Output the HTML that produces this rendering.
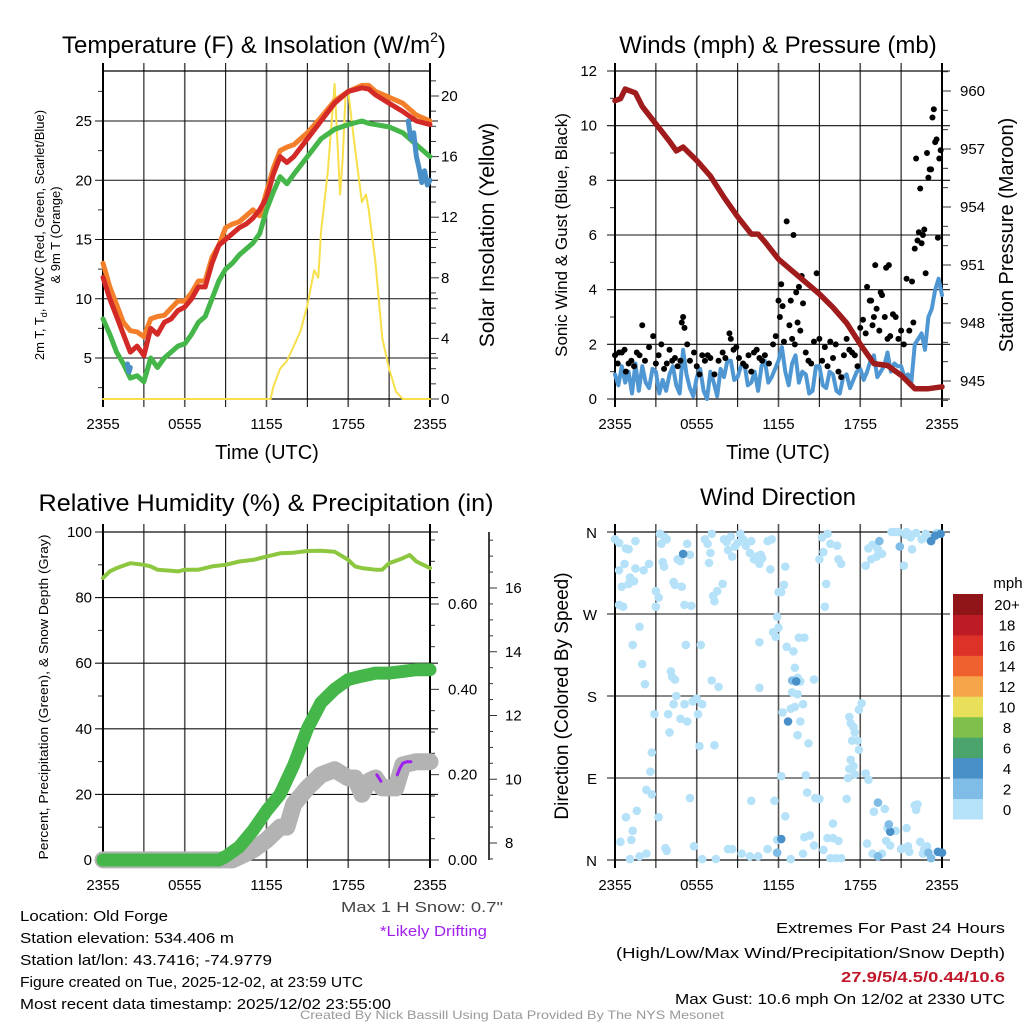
<!DOCTYPE html>
<html><head><meta charset="utf-8"><style>
html,body{margin:0;padding:0;background:#fff;}
svg{display:block;font-family:"Liberation Sans",sans-serif;}
</style></head><body>
<svg id="fig" width="1024" height="1024" viewBox="0 0 1024 1024" xmlns="http://www.w3.org/2000/svg">
<rect x="0" y="0" width="1024" height="1024" fill="#fff"/>
<g id="g-tl"></g>
<g id="g-tr"></g>
<g id="g-bl"></g>
<g id="g-br"></g>
<g id="g-txt" font-size="15">
<text x="20" y="921" textLength="148" lengthAdjust="spacingAndGlyphs">Location: Old Forge</text>
<text x="20" y="943" textLength="214" lengthAdjust="spacingAndGlyphs">Station elevation: 534.406 m</text>
<text x="20" y="965" textLength="252" lengthAdjust="spacingAndGlyphs">Station lat/lon: 43.7416; -74.9779</text>
<text x="20" y="987" textLength="343" lengthAdjust="spacingAndGlyphs">Figure created on Tue, 2025-12-02, at 23:59 UTC</text>
<text x="20" y="1009" textLength="371" lengthAdjust="spacingAndGlyphs">Most recent data timestamp: 2025/12/02 23:55:00</text>
<text x="341" y="912" fill="#444" textLength="162" lengthAdjust="spacingAndGlyphs">Max 1 H Snow: 0.7"</text>
<text x="380" y="936" fill="#a020f0" textLength="107" lengthAdjust="spacingAndGlyphs">*Likely Drifting</text>
<text x="1005" y="933" text-anchor="end" textLength="229" lengthAdjust="spacingAndGlyphs">Extremes For Past 24 Hours</text>
<text x="1005" y="958" text-anchor="end" textLength="389" lengthAdjust="spacingAndGlyphs">(High/Low/Max Wind/Precipitation/Snow Depth)</text>
<text x="1005" y="982" text-anchor="end" fill="#c0182a" font-weight="bold" textLength="164" lengthAdjust="spacingAndGlyphs">27.9/5/4.5/0.44/10.6</text>
<text x="1005" y="1004" text-anchor="end" textLength="330" lengthAdjust="spacingAndGlyphs">Max Gust: 10.6 mph On 12/02 at 2330 UTC</text>
<text x="512" y="1019" text-anchor="middle" font-size="12" fill="#999" textLength="424" lengthAdjust="spacingAndGlyphs">Created By Nick Bassill Using Data Provided By The NYS Mesonet</text>
</g>
</svg>
<script>
// ---------- DATA ----------
const xTickLabels = ["2355","0555","1155","1755","2355"];
const tempHours = [0,0.5,1,1.5,2,2.5,3,3.5,4,4.5,5,5.5,6,6.5,7,7.5,8,8.5,9,9.5,10,10.5,11,11.5,12,12.5,13,13.5,14,15,16,17,18,19,19.5,20,21,22,23,24];
const temp9m = [13,11,9.5,8,7.3,7.2,6.8,8.3,8.5,8.6,9.2,9.8,9.8,10.5,11.5,11.5,13.5,14.5,16,16.3,16.5,17,17.5,17,19,21,22.5,22.8,23,24,25.3,26.7,27.5,28,28,27.5,27,26.5,25.5,25];
const temp2m = [11.8,10,8.5,7,5.5,6,5.2,7.5,7,8,8.3,9,9.3,10,11,11,13,14.5,15,15.5,16,16.3,16.8,17.5,18.5,20.5,22,21.5,22,23.5,25,26.5,27.5,27.8,27.7,27.2,26.5,25.8,25,24.7];
const dewpt = [8.3,7,5.5,4.5,3.3,3.5,3,5,4.2,5,5.5,6,6.2,7,8,8.5,10,11.5,12.5,13,13.7,14.2,14.7,15.5,17.5,19,20.3,19.7,20.5,22,23.5,24.3,24.7,25,24.8,24.7,24.5,24,23,22];
const wcHoursA = [1.8,1.9,2.0];
const wcValsA = [4.5,3.8,4.2];
const wcHoursB = [22.4,22.6,22.8,23,23.2,23.4,23.6,23.8,24];
const wcValsB = [25,23.5,24,22,21,19.8,20.8,19.6,20];
const solarHours = [0,12.3,12.5,13,13.5,14,14.5,15,15.5,15.8,16,16.5,17,17.2,17.4,17.6,17.8,18,18.3,18.5,19,19.3,19.5,20,20.5,21,21.5,22,24];
const solarVals = [0,0,0.8,2,2.5,3.5,4.5,6.2,8.5,8,11,15,20.8,17,13.5,16,20,20.3,18,16.5,13,13.5,12.5,9,4,2,0.5,0,0];
const windHours = [0,0.25,0.5,0.75,1,1.25,1.5,1.75,2,2.25,2.5,2.75,3,3.25,3.5,3.75,4,4.25,4.5,4.75,5,5.25,5.5,5.75,6,6.25,6.5,6.75,7,7.25,7.5,7.75,8,8.25,8.5,8.75,9,9.25,9.5,9.75,10,10.25,10.5,10.75,11,11.25,11.5,11.75,12,12.25,12.5,12.75,13,13.25,13.5,13.75,14,14.25,14.5,14.75,15,15.25,15.5,15.75,16,16.25,16.5,16.75,17,17.25,17.5,17.75,18,18.25,18.5,18.75,19,19.25,19.5,19.75,20,20.25,20.5,20.75,21,21.25,21.5,21.75,22,22.25,22.5,22.75,23,23.25,23.5,23.75,24];
const windVals = [0.9,0.5,1.2,0.6,1.0,0.2,1.3,0.3,1.2,0.6,0.4,1.1,1.0,0.2,0.7,0.3,0.9,1.2,0.5,0.2,1.8,0.9,0.4,0.1,0.8,1.1,0.3,0.0,1.0,0.6,0.1,1.1,0.8,1.4,1.4,0.7,0.8,1.2,1.3,0.5,0.6,1.0,0.3,1.2,1.4,0.6,0.8,1.1,1.4,1.9,1.0,0.5,1.3,1.6,0.6,1.0,0.9,0.2,0.3,1.2,1.2,0.5,0.4,1.0,0.9,0.3,0.2,0.8,0.9,0.4,0.7,1.0,1.1,0.7,1.0,1.4,1.6,0.8,1.0,1.2,1.7,1.0,1.3,1.2,1.2,0.8,0.9,0.6,2.0,2.2,2.4,1.8,3.0,3.3,4.0,4.4,3.8];
const gustHours = [0,0.2,0.3,0.5,0.7,0.8,1,1.2,1.4,1.6,1.8,2,2.2,2.5,2.8,3,3.2,3.4,3.6,3.8,4,4.2,4.4,4.6,4.8,4.9,5,5.1,5.3,5.5,5.8,6,6.2,6.4,6.6,6.8,7,7.3,7.6,7.9,8.1,8.4,8.5,8.7,8.9,9.1,9.4,9.6,9.8,10,10.2,10.4,10.6,10.8,11,11.3,11.6,11.8,12,12.1,12.2,12.3,12.4,12.6,12.8,12.9,13,13.1,13.2,13.3,13.4,13.5,13.6,13.7,13.8,14,14.2,14.4,14.6,14.8,15,15.2,15.4,15.6,15.8,16,16.2,16.4,16.6,16.8,17,17.2,17.4,17.6,17.8,18,18.2,18.4,18.5,18.7,18.8,18.9,19,19.1,19.2,19.4,19.5,19.6,19.8,19.9,20,20.1,20.2,20.4,20.6,20.8,21,21.2,21.4,21.6,21.8,21.9,22,22.1,22.2,22.3,22.4,22.5,22.6,22.7,22.8,22.9,23,23.1,23.2,23.3,23.4,23.5,23.6,23.7,23.8,23.9];
const gustVals = [1.6,1.3,1.7,1.7,1.8,1.0,1.3,1.4,1.2,1.7,1.6,2.7,1.4,1.9,2.3,1.3,1.6,2.0,1.1,1.3,1.8,1.4,1.5,1.2,1.4,2.8,3.0,2.6,2.0,1.4,1.7,1.2,0.9,1.6,1.4,1.6,1.5,0.9,1.4,1.7,1.5,2.4,2.2,1.8,1.9,1.5,1.3,1.2,1.6,1.0,1.7,1.8,1.5,1.4,1.6,1.3,2.0,2.3,3.6,3.0,4.2,3.4,2.1,6.5,2.7,3.6,2.2,6.0,2.0,3.9,2.8,4.1,2.5,4.5,3.5,1.7,1.4,1.3,2.1,4.6,2.2,1.4,1.9,1.2,2.1,1.5,2.0,1.0,0.8,1.6,2.2,1.8,1.7,1.6,1.2,2.6,2.9,2.4,4.1,3.6,3.6,2.7,3.0,4.9,3.3,2.5,3.9,3.8,3.0,4.8,2.2,4.9,2.3,3.1,3.0,2.2,2.5,2.0,4.4,2.5,4.3,2.8,5.5,8.8,5.8,6.1,7.7,5.7,6.0,6.2,4.6,9.0,8.1,8.4,8.4,10.3,10.6,9.4,9.5,5.9,8.8,9.1];
const presHours = [0,0.4,0.75,1.5,2,3,4,4.5,5,6,7,8,9,10,10.5,11,12,13,14,15,16,17,18,19,20,21,22,23,24];
const presVals = [959.5,959.6,960.1,959.9,959.2,958.3,957.4,956.9,957.1,956.4,955.6,954.5,953.5,952.6,952.6,952.2,951.3,950.7,950.1,949.5,948.8,948.0,946.9,945.9,945.8,945.3,944.6,944.6,944.7];
const rhHours = [0,0.5,1,2,3,3.5,4,5,5.5,6,7,8,9,10,11,12,13,14,15,16,17,18,18.5,19,20,20.5,21,22,22.5,23,24];
const rhVals = [86,88,89,90.5,90,89.5,88.5,88.2,88,88.5,88.5,89.5,90,91,91.5,92.5,93.5,93.7,94.2,94.3,94,91.5,89.5,89,88.5,88.5,90.5,92,93,91,89];
const precipHours = [0,8.5,9,10,11,12,13,14,15,16,17,18,19,20,21,22,23,24];
const precipVals = [0,0,0.008,0.031,0.069,0.115,0.154,0.223,0.308,0.369,0.40,0.423,0.431,0.438,0.438,0.442,0.446,0.446];
const snowHours = [0,9.5,10,11,12,13,13.5,14,15,16,17,18,18.5,19,19.5,20,20.5,21,21.5,22,23,24];
const snowVals = [7.47,7.47,7.57,7.78,8.09,8.5,8.5,9.22,9.73,10.14,10.3,10.04,10.04,9.53,9.94,10.04,9.73,9.73,9.73,10.45,10.55,10.55];
const driftHoursA = [20.1,20.25,20.4];
const driftValsA = [10.14,10.04,9.94];
const driftHoursB = [21.6,21.8,22.0,22.3,22.6];
const driftValsB = [10.14,10.35,10.5,10.55,10.55];
// Wind direction: light (0-2 mph) observations
const dirHours = [
 0,0.3,0.8,1,1.5,0.3,0.7,1.1,1.5,2.1,2.5,0.5,1,1.4,0.3,0.6,
 3.3,3.6,3.8,3.4,3.5,3.6,4.6,4.3,4.4,5.3,5.5,5.1,5.6,4.9,4.8,3,3.2,3.0,
 6.6,7.1,6.8,7.0,6.9,7.5,7.2,7.3,7.9,8,8.2,8.5,8.8,8.3,8.6,9,9.2,
 9.4,9.6,10,9.9,10.4,10.2,10.7,10.8,11.2,11.5,10.6,11.4,12.5,12.4,12,12.2,11.9,
 1.8,1.3,2.0,2.2,4.1,4.2,4.4,5.2,6.3,4.5,4.3,5.1,5.7,6.0,6.4,7.1,7.6,2.9,3.9,4.8,5.3,6.1,4.0,6.2,7.3,2.7,2.6,2.3,2.7,0.8,1.6,1.3,0.4,1.2,3.2,5.5,5.8,3.7,3.8,2.3,1.8,1.1,6.4,7.4,8.3,8.6,9.3,9.9,10.0,10.5,11.2,11.9,
 10.6,11.8,12.0,11.6,12.6,13.1,13.5,13.9,13.2,13.4,13.6,13.0,13.4,10.6,13.8,13.2,12.3,12.9,13.6,13.4,14.2,14.6,12.2,14.0,14.1,14.7,15.0,12.5,11.7,13.9,14.3,14.6,13.8,15.3,15.6,16.0,16.4,15.8,16.2,16.6,16.0,17.0,12.9,
 15.2,15.6,15.8,16.3,15.3,15.0,16.4,16.6,15.5,15.4,
 17.9,18.1,17.2,17.3,17.5,17.6,17.4,17.8,17.9,17.3,17.5,17.2,18.4,17.1,18.6,17.6,
 18.6,18.9,19.3,19.6,18.8,19.2,18.4,21.3,21.7,21.4,22.1,21.7,22.8,23.0,23.3,22.5,21.2,21.8,20.3,20.5,20.8,23.6,
 19.0,19.8,20.0,20.6,21.4,22.0,22.2,22.1,21.0,21.5,22.4,22.7,22.9,22.6,20.2,19.6,18.5,18.9,19.9,21.2,21.6];
const dirDegs = [
 352,348,342,341,350,318,325,310,320,318,325,300,303,306,280,278,
 358,355,352,347,327,322,330,305,302,347,335,280,279,300,328,295,288,278,
 352,358,347,337,326,295,290,284,303,352,349,355,344,340,333,348,358,
 352,345,350,337,333,330,335,331,350,352,325,319,322,302,294,294,267,
 256,236,215,193,207,201,198,236,236,180,171,171,174,177,171,197,190,160,160,155,152,160,140,125,126,118,97,77,72,47,54,32,20,22,47,68,15,13,10,7,4,1,1,1,12,12,7,4,65,4,12,22,
 239,245,255,250,234,229,244,244,211,200,196,184,182,189,171,168,162,166,152,137,128,198,92,93,74,68,67,48,65,25,27,16,7,11,24,24,21,2,2,2,40,67,1,
 354,358,347,345,338,330,330,325,303,278,
 165,172,157,150,146,140,131,131,121,110,103,100,95,90,88,94,
 342,346,341,336,330,333,323,357,357,360,359,354,358,353,354,352,323,341,360,360,360,359,
 53,56,35,32,35,60,61,55,12,15,20,12,15,7,16,7,18,7,21,13,9];
// Wind direction: stronger (2-6 mph) observations
const dirDarkHours = [5.0,19.4,20.9,23.5,23.2,13.0,12.7,13.3,12.2,11.9,20.2,20.1,19.3,23.2,23.7,24,19.3,23.0,23.9];
const dirDarkDegs = [336,350,344,356,350,197,152,196,23,8,31,39,4,2,9,8,63,8,358];
const dirDarkSpeeds = [4.2,3,3,4.5,4.5,3,4.2,4.2,4.2,3,4.2,3,3,3,4.2,4.2,2.5,2.5,4.5];
const cbLabels = ["0","2","4","6","8","10","12","14","16","18","20+"];
const cbColors = ["#b5e2f8","#80bde6","#4a90c8","#4ba46c","#7fc04d","#e8e05a","#f6a64a","#ef6230","#dc3228","#bd1c24","#8f1519"];

// ---------- HELPERS ----------
const NS = "http://www.w3.org/2000/svg";
function el(parent, tag, attrs, text) {
  const e = document.createElementNS(NS, tag);
  for (const k in attrs) e.setAttribute(k, attrs[k]);
  if (text !== undefined) e.textContent = text;
  parent.appendChild(e);
  return e;
}
function lin(d0, d1, r0, r1) { return v => r0 + (v - d0) * (r1 - r0) / (d1 - d0); }
function pathFrom(xs, ys, sx, sy) {
  return xs.map((h, i) => (i ? "L" : "M") + sx(h).toFixed(1) + "," + sy(ys[i]).toFixed(1)).join("");
}
const PX = [103, 430], PX2 = [615, 942];
function frame(g, x0, x1, y0, y1) {
  const sx = lin(0, 24, x0, x1);
  for (let h = 3; h < 24; h += 3) {
    const l = el(g, "line", {x1: sx(h), x2: sx(h), y1: y0 - 8, y2: y1 + 8, stroke: (h % 6 === 0) ? "#555" : "#111", "stroke-width": (h % 6 === 0) ? 1.6 : 1.1});
    
    
  }
  [0, 24].forEach(h => {
    const l = el(g, "line", {x1: sx(h), x2: sx(h), y1: y0 - 8, y2: y1 + 8, stroke: "#000", "stroke-width": 2});
    
    
  });
  el(g, "line", {x1: x0, x2: x1, y1: y0, y2: y0, stroke: "#000", "stroke-width": 1.3});
  el(g, "line", {x1: x0, x2: x1, y1: y1, y2: y1, stroke: "#000", "stroke-width": 1.3});
  xTickLabels.forEach((t, i) => {
    const tx = el(g, "text", {x: sx(i * 6), y: y1 + 30, "text-anchor": "middle", "font-size": 15}, t);
    
    
  });
  return sx;
}
function hgrid(g, sy, vals, x0, x1, lab, xl) {
  vals.forEach(v => {
    const l = el(g, "line", {x1: x0 - 8, x2: x1 + 8, y1: sy(v), y2: sy(v), stroke: "#111", "stroke-width": 1.1});
    
    
    if (lab) {
      const t = el(g, "text", {x: xl, y: sy(v) + 5, "text-anchor": "end", "font-size": 15}, v);
      
      
    }
  });
}
function ticks(g, sy, vals, x, dir, len) {
  vals.forEach(v => el(g, "line", {x1: x, x2: x + dir * len, y1: sy(v), y2: sy(v), stroke: "#333", "stroke-width": 1}));
}
function title(g, x, y, txt, name, tl) {
  const a = {x: x, y: y, "text-anchor": "middle", "font-size": 24};
  if (tl) { a.textLength = tl; a.lengthAdjust = "spacingAndGlyphs"; }
  const t = el(g, "text", a, txt);
  
  
  return t;
}
function vlabel(g, x, y, txt, size, name, tl) {
  const a = {x: x, y: y, "text-anchor": "middle", "font-size": size, transform: "rotate(-90 " + x + " " + y + ")"};
  if (tl) { a.textLength = tl; a.lengthAdjust = "spacingAndGlyphs"; }
  const t = el(g, "text", a, txt);
  
  
  return t;
}
function line(g, xs, ys, sx, sy, color, w, name) {
  const p = el(g, "path", {d: pathFrom(xs, ys, sx, sy), fill: "none", stroke: color, "stroke-width": w, "stroke-linejoin": "round", "stroke-linecap": "round"});
  
  
  return p;
}

// ---------- PANEL 1 ----------
(function () {
  const g = document.getElementById("g-tl");
  const y0 = 71, y1 = 399;
  const sx = frame(g, PX[0], PX[1], y0, y1);
  const sy = lin(5, 25, 358, 121);
  const sr = lin(0, 20, 399, 96);
  hgrid(g, sy, [5, 10, 15, 20, 25], PX[0], PX[1], true, 92);
  ticks(g, sy, [2.5, 7.5, 12.5, 17.5, 22.5, 27.5], PX[0], -1, 5);
  const rt = []; for (let v = 1; v <= 21; v++) if (v % 4) rt.push(v);
  ticks(g, sr, rt, PX[1], 1, 6);
  ticks(g, sr, [0, 4, 8, 12, 16, 20], PX[1], 1, 9);
  [0, 4, 8, 12, 16, 20].forEach(v => {
    const t = el(g, "text", {x: 441, y: sr(v) + 5, "font-size": 15}, v);
    
    
  });
  el(g, "line", {x1: PX[0], x2: PX[0], y1: y0, y2: y1, stroke: "#000", "stroke-width": 2});
  el(g, "line", {x1: PX[1], x2: PX[1], y1: y0, y2: y1, stroke: "#000", "stroke-width": 2});
  line(g, solarHours, solarVals, sx, sr, "#f7e04b", 2, "solar-line");
  line(g, tempHours, temp9m, sx, sy, "#f37f2b", 5, "temp-9m-line");
  line(g, tempHours, temp2m, sx, sy, "#d42a27", 5, "temp-2m-line");
  line(g, tempHours, dewpt, sx, sy, "#45b649", 5, "dewpoint-line");
  line(g, wcHoursA, wcValsA, sx, sy, "#4a90c8", 5, "windchill-line");
  line(g, wcHoursB, wcValsB, sx, sy, "#4a90c8", 5, "windchill-line");
  const tt = el(g, "text", {x: 62, y: 53, "font-size": 24});
  
  
  tt.innerHTML = 'Temperature (F) &amp; Insolation (W/m<tspan font-size="14" dy="-11">2</tspan><tspan dy="11">)</tspan>';
  const yl = el(g, "text", {x: 44, y: 235, "text-anchor": "middle", "font-size": 13, transform: "rotate(-90 44 235)"});
  
  
  yl.innerHTML = '2m T, T<tspan font-size="9" dy="3">d</tspan><tspan dy="-3">, HI/WC (Red, Green, Scarlet/Blue)</tspan>';
  vlabel(g, 60, 235, "& 9m T (Orange)", 13, "temp-y-axis-title-2");
  vlabel(g, 494, 235, "Solar Insolation (Yellow)", 21, "solar-axis-title");
  const xt = el(g, "text", {x: 267, y: 459, "text-anchor": "middle", "font-size": 20}, "Time (UTC)");
   
})();

// ---------- PANEL 2 ----------
(function () {
  const g = document.getElementById("g-tr");
  const y0 = 71, y1 = 399;
  const sx = frame(g, PX2[0], PX2[1], y0, y1);
  const sy = lin(0, 12, 399, 71);
  const sp = lin(945, 960, 381, 91);
  hgrid(g, sy, [0, 2, 4, 6, 8, 10, 12], PX2[0], PX2[1], true, 597);
  ticks(g, sy, [1, 3, 5, 7, 9, 11], PX2[0], -1, 5);
  const pm = []; for (let v = 944; v <= 961; v++) if ((v - 945) % 3) pm.push(v);
  ticks(g, sp, pm, PX2[1], 1, 6);
  ticks(g, sp, [945, 948, 951, 954, 957, 960], PX2[1], 1, 9);
  [945, 948, 951, 954, 957, 960].forEach(v => {
    const t = el(g, "text", {x: 960, y: sp(v) + 5, "font-size": 15}, v);
    
    
  });
  el(g, "line", {x1: PX2[0], x2: PX2[0], y1: y0, y2: y1, stroke: "#000", "stroke-width": 2});
  el(g, "line", {x1: PX2[1], x2: PX2[1], y1: y0, y2: y1, stroke: "#000", "stroke-width": 2});
  line(g, windHours, windVals, sx, sy, "#4f97d3", 4, "sonic-wind-line");
  gustHours.forEach((h, i) => {
    const c = el(g, "circle", {cx: sx(h), cy: sy(gustVals[i]), r: 3, fill: "#000"});
    
    
  });
  line(g, presHours, presVals, sx, sp, "#a01c1c", 5.5, "pressure-line");
  title(g, 778, 53, "Winds (mph) & Pressure (mb)", "wind-title");
  vlabel(g, 567, 235, "Sonic Wind & Gust (Blue, Black)", 17, "wind-y-axis-title");
  vlabel(g, 1013, 235, "Station Pressure (Maroon)", 20, "pressure-axis-title");
  const xt = el(g, "text", {x: 778, y: 459, "text-anchor": "middle", "font-size": 20}, "Time (UTC)");
   
})();

// ---------- PANEL 3 ----------
(function () {
  const g = document.getElementById("g-bl");
  const y0 = 532, y1 = 860;
  const sx = frame(g, PX[0], PX[1], y0, y1);
  const sy = lin(0, 100, 860, 532);
  const sp = lin(0, 0.6, 860, 604);
  const ss = lin(8, 16, 843, 588);
  hgrid(g, sy, [0, 20, 40, 60, 80, 100], PX[0], PX[1], true, 92);
  ticks(g, sy, [10, 30, 50, 70, 90], PX[0], -1, 5);
  ticks(g, sp, [0.05, 0.1, 0.15, 0.25, 0.3, 0.35, 0.45, 0.5, 0.55, 0.65, 0.7, 0.75], PX[1], 1, 5);
  ticks(g, sp, [0, 0.2, 0.4, 0.6], PX[1], 1, 9);
  [0, 0.2, 0.4, 0.6].forEach(v => {
    const t = el(g, "text", {x: 448, y: sp(v) + 5, "font-size": 15}, v.toFixed(2));
    
    
  });
  el(g, "line", {x1: 489, x2: 489, y1: 532, y2: 860, stroke: "#000", "stroke-width": 1.5});
  const sm = []; for (let v = 7.5; v <= 17.5; v += 0.5) if (v % 2) sm.push(v);
  ticks(g, ss, sm, 489, 1, 4);
  ticks(g, ss, [8, 10, 12, 14, 16], 489, 1, 8);
  [8, 10, 12, 14, 16].forEach(v => {
    const t = el(g, "text", {x: 505, y: ss(v) + 5, "font-size": 15}, v);
    
    
  });
  el(g, "line", {x1: PX[0], x2: PX[0], y1: y0, y2: y1, stroke: "#000", "stroke-width": 2});
  el(g, "line", {x1: PX[1], x2: PX[1], y1: y0, y2: y1, stroke: "#000", "stroke-width": 2});
  line(g, snowHours, snowVals, sx, ss, "#b3b3b3", 17, "snow-depth-line");
  line(g, precipHours, precipVals, sx, sp, "#45b649", 13, "precip-line");
  line(g, driftHoursA, driftValsA, sx, ss, "#a020f0", 3, "drifting-line");
  line(g, driftHoursB, driftValsB, sx, ss, "#a020f0", 3, "drifting-line");
  line(g, rhHours, rhVals, sx, sy, "#8dc63f", 4, "rh-line");
  title(g, 266, 511, "Relative Humidity (%) & Precipitation (in)", "rh-title", 455);
  vlabel(g, 48, 697, "Percent, Precipitation (Green), & Snow Depth (Gray)", 13, "rh-y-axis-title", 325);
})();

// ---------- PANEL 4 ----------
(function () {
  const g = document.getElementById("g-br");
  const y0 = 532, y1 = 860;
  const sx = frame(g, PX2[0], PX2[1], y0, y1);
  const sy = lin(0, 360, 860, 532);
  hgrid(g, sy, [0, 90, 180, 270, 360], PX2[0], PX2[1], false);
  const dl = ["N", "E", "S", "W", "N"];
  [0, 90, 180, 270, 360].forEach((v, i) => {
    const t = el(g, "text", {x: 597, y: sy(v) + 6, "text-anchor": "end", "font-size": 15}, dl[i]);
    
    
  });
  el(g, "line", {x1: PX2[0], x2: PX2[0], y1: y0, y2: y1, stroke: "#000", "stroke-width": 2});
  el(g, "line", {x1: PX2[1], x2: PX2[1], y1: y0, y2: y1, stroke: "#000", "stroke-width": 1.5});
  const n = Math.min(dirHours.length, dirDegs.length);
  for (let i = 0; i < n; i++) {
    const c = el(g, "circle", {cx: sx(dirHours[i]), cy: sy(dirDegs[i]), r: 4.3, fill: cbColors[0]});
    
    
  }
  dirDarkHours.forEach((h, i) => {
    const b = Math.min(10, Math.floor(dirDarkSpeeds[i] / 2));
    const c = el(g, "circle", {cx: sx(h), cy: sy(dirDarkDegs[i]), r: 4.3, fill: cbColors[b]});
    
    
  });
  title(g, 778, 505, "Wind Direction", "wind-direction-title");
  vlabel(g, 568, 696, "Direction (Colored By Speed)", 19, "direction-y-axis-title");
  const top = 594, bot = 819, h = (bot - top) / cbColors.length;
  cbColors.forEach((c, i) => {
    const r = el(g, "rect", {x: 953, y: bot - (i + 1) * h, width: 30, height: h + 0.5, fill: c});
    
    
    const t = el(g, "text", {x: 1007, y: bot - (i + 0.5) * h + 6, "text-anchor": "middle", "font-size": 15}, cbLabels[i]);
    
    
  });
  const u = el(g, "text", {x: 1008, y: 588, "text-anchor": "middle", "font-size": 15}, "mph");
  
  
})();
</script>
</body></html>
